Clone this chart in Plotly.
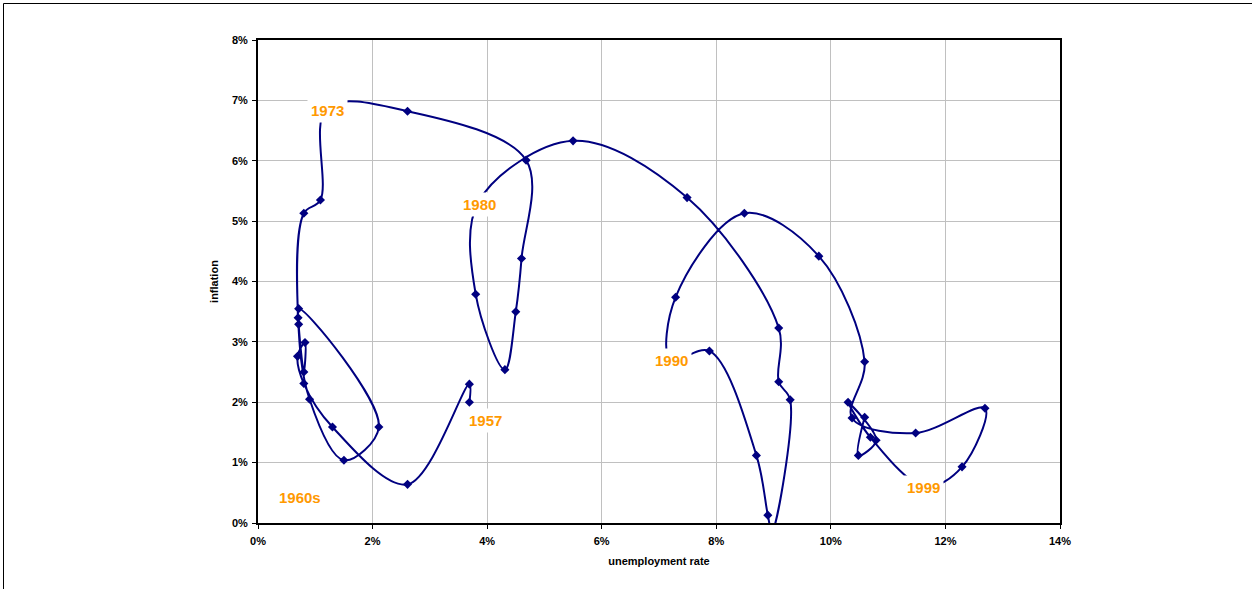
import plotly.graph_objects as go

# ---- data ----
years = list(range(1957, 2005))
unemployment = [
    3.69, 3.69, 2.61, 1.30, 0.80, 0.69, 0.82, 0.80, 0.71, 0.71,   # 1957-1966
    2.11, 1.50, 0.90, 0.70, 0.80, 1.09, 1.20, 2.61, 4.68, 4.60,   # 1967-1976
    4.50, 4.31, 3.80, 3.85, 5.50, 7.49, 9.09, 9.09, 9.29, 8.97,   # 1977-1986
    8.90, 8.70, 7.88, 7.20, 7.29, 8.49, 9.79, 10.59, 10.37, 11.48,  # 1987-1996
    12.69, 12.29, 11.65, 10.69, 10.30, 10.79, 10.48, 10.59,        # 1997-2004
]
inflation = [
    2.00, 2.30, 0.64, 1.59, 2.31, 2.76, 2.99, 2.50, 3.29, 3.55,   # 1957-1966
    1.59, 1.04, 2.05, 3.40, 5.13, 5.35, 6.88, 6.82, 6.01, 4.38,   # 1967-1976
    3.50, 2.54, 3.79, 5.32, 6.33, 5.39, 3.23, 2.34, 2.04, -0.15,  # 1977-1986
    0.13, 1.12, 2.85, 2.70, 3.74, 5.13, 4.42, 2.67, 1.74, 1.49,   # 1987-1996
    1.90, 0.93, 0.60, 1.42, 2.00, 1.37, 1.12, 1.75,               # 1997-2004
]

x_tick_vals = [0, 2, 4, 6, 8, 10, 12, 14]
x_tick_text = ["0%", "2%", "4%", "6%", "8%", "10%", "12%", "14%"]
y_tick_vals = [0, 1, 2, 3, 4, 5, 6, 7, 8]
y_tick_text = ["0%", "1%", "2%", "3%", "4%", "5%", "6%", "7%", "8%"]

label_text = ["1957", "1960s", "1973", "1980", "1990", "1999"]
label_x = [3.97, 0.73, 1.22, 3.86, 7.21, 11.61]
label_y = [1.69, 0.43, 6.84, 5.28, 2.69, 0.59]

NAVY = "#000080"
ORANGE = "#FF9900"
FONT = "Liberation Sans, Arial, Helvetica, sans-serif"

fig = go.Figure()
fig.add_trace(go.Scatter(
    x=unemployment, y=inflation, text=[str(y) for y in years],
    mode="lines+markers",
    line=dict(color=NAVY, width=2, shape="spline", smoothing=1),
    marker=dict(symbol="diamond", size=7, color=NAVY),
    hovertemplate="%{text}: %{x}%, %{y}%<extra></extra>",
    showlegend=False,
    cliponaxis=True,
))

for t, lx, ly in zip(label_text, label_x, label_y):
    fig.add_annotation(
        x=lx, y=ly, xref="x", yref="y", text=t, showarrow=False,
        font=dict(family=FONT, size=15, color=ORANGE, weight="bold"),
        bgcolor="white", borderpad=3,
    )

axis_common = dict(
    showgrid=True, gridcolor="#C0C0C0", gridwidth=1,
    showline=True, linecolor="black", linewidth=2, mirror=True,
    ticks="outside", ticklen=4, tickwidth=1, tickcolor="black",
    tickfont=dict(family=FONT, size=11, color="black", weight="bold"),
    zeroline=False, tickmode="array",
)

fig.update_xaxes(
    range=[0, 14], tickvals=x_tick_vals, ticktext=x_tick_text, ticklabelstandoff=3,
    title=dict(text="unemployment rate", standoff=11,
               font=dict(family=FONT, size=11, color="black", weight="bold")),
    **axis_common,
)
fig.update_yaxes(
    range=[0, 8], tickvals=y_tick_vals, ticktext=y_tick_text, ticklabelstandoff=2,
    title=dict(text="inflation", standoff=11,
               font=dict(family=FONT, size=11, color="black", weight="bold")),
    **axis_common,
)

W, H = 1252, 589
L, R, T, B = 258, 192, 40, 66
pw, ph = W - L - R, H - T - B

def px_to_paper_x(px):
    return (px - L) / pw

def px_to_paper_y(py):
    return (H - B - py) / ph

fig.add_shape(
    type="rect", xref="paper", yref="paper",
    x0=px_to_paper_x(3.5), x1=px_to_paper_x(1320),
    y0=px_to_paper_y(640), y1=px_to_paper_y(3.5),
    line=dict(color="black", width=1), fillcolor="rgba(0,0,0,0)", layer="above",
)

fig.update_layout(
    width=W, height=H, autosize=False,
    margin=dict(l=L, r=R, t=T, b=B, pad=0),
    plot_bgcolor="white", paper_bgcolor="white",
    font=dict(family=FONT, color="black"),
)

fig.write_html(
    "out.html",
    config={"displayModeBar": False},
    post_script="document.body.style.margin='0';document.body.style.overflow='hidden';",
)
